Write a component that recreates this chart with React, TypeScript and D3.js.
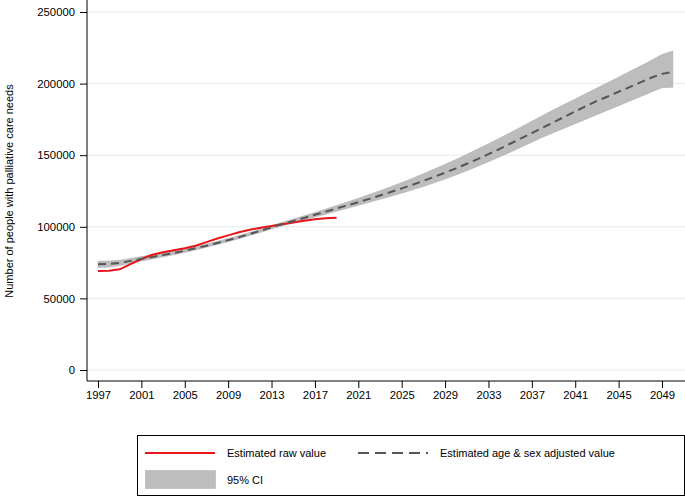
import { useRef, useEffect } from 'react';
import * as d3 from 'd3';

// raw estimates 1997-2019
const rawYears = d3.range(1997, 2020);
const rawValues = [
  69100, 69300, 70300, 74000, 77500, 80500, 82200, 83600, 85000, 86800, 89300, 91800,
  94000, 96200, 98000, 99300, 100500, 101800, 103000, 104200, 105200, 105900, 106400,
];

// age & sex adjusted estimates + 95% CI, 1997-2050
const adjYears = d3.range(1997, 2051);
const adjValues = [
  73800, 74000, 74800, 76200, 77600, 78900, 80300, 81700, 83300, 85000, 86800, 88700,
  90700, 92800, 95000, 97300, 99600, 101900, 104100, 106200, 108400, 110600, 112800,
  115000, 117200, 119500, 121900, 124300, 126800, 129400, 132100, 134900, 137800,
  140800, 144000, 147300, 150700, 154300, 158000, 161700, 165400, 169200, 173000,
  176800, 180600, 184300, 187900, 191000, 194300, 197500, 200800, 204100, 206800, 208200,
];
const ciLower = [
  71600, 71900, 72900, 74500, 76100, 77500, 79000, 80500, 82100, 83850, 85700, 87600,
  89600, 91700, 93900, 96150, 98400, 100650, 102750, 104750, 106800, 108850, 110900,
  112950, 115000, 117100, 119200, 121300, 123500, 125800, 128200, 130700, 133300,
  136100, 139100, 142200, 145400, 148700, 152000, 155500, 159000, 162600, 165700,
  168900, 172000, 175100, 178300, 181400, 184500, 187700, 190800, 194000, 197100, 197500,
];
const ciUpper = [
  76000, 76100, 76700, 77900, 79200, 80300, 81600, 82900, 84500, 86150, 87900, 89800,
  91800, 93900, 96100, 98450, 100800, 103150, 105450, 107650, 110000, 112350, 114900,
  117400, 119900, 122500, 125200, 128000, 130900, 133900, 137000, 140300, 143600,
  147000, 150600, 154300, 158000, 161800, 165700, 169700, 173700, 177800, 181700,
  185500, 189300, 193100, 196900, 200700, 204500, 208400, 212300, 216200, 220300, 222800,
];

const yTicks = [0, 50000, 100000, 150000, 200000, 250000];
const xTicks = [1997, 2001, 2005, 2009, 2013, 2017, 2021, 2025, 2029, 2033, 2037, 2041, 2045, 2049];

const yTitle = 'Number of people with palliative care needs';
const legendLabels = ['Estimated raw value', 'Estimated age & sex adjusted value', '95% CI'];

const W = 685;
const H = 497;
const FONT = '"Liberation Sans", Arial, sans-serif';

export default function App() {
  const svgRef = useRef<SVGSVGElement>(null);

  useEffect(() => {
    if (!svgRef.current) return;
    const svg = d3.select(svgRef.current);
    svg.selectAll('*').remove();

    const axisX = 87;
    const axisY = 381;

    const x = d3.scaleLinear().domain([1997, 2049]).range([98, 662]);
    const y = d3.scaleLinear().domain([0, 250000]).range([370, 12]);

    svg.append('rect').attr('width', W).attr('height', H).attr('fill', '#fff');

    // gridlines
    svg
      .append('g')
      .selectAll('line')
      .data(yTicks)
      .enter()
      .append('line')
      .attr('x1', axisX)
      .attr('x2', W)
      .attr('y1', (d) => y(d))
      .attr('y2', (d) => y(d))
      .attr('stroke', '#e4ecef')
      .attr('stroke-width', 1);

    // CI band
    const band = adjYears.map((yr, i) => ({ yr, lo: ciLower[i], hi: ciUpper[i] }));
    svg
      .append('path')
      .datum(band)
      .attr(
        'd',
        d3
          .area<{ yr: number; lo: number; hi: number }>()
          .x((d) => x(d.yr))
          .y0((d) => y(d.lo))
          .y1((d) => y(d.hi))
      )
      .attr('fill', '#bdbdbd')
      .attr('stroke', '#a9a9a9')
      .attr('stroke-width', 0.5);

    const line = d3
      .line<[number, number]>()
      .x((d) => x(d[0]))
      .y((d) => y(d[1]));

    // raw value
    svg
      .append('path')
      .datum(rawYears.map((yr, i) => [yr, rawValues[i]] as [number, number]))
      .attr('d', line)
      .attr('fill', 'none')
      .attr('stroke', '#e8161b')
      .attr('stroke-width', 2);

    // adjusted value
    svg
      .append('path')
      .datum(adjYears.map((yr, i) => [yr, adjValues[i]] as [number, number]))
      .attr('d', line)
      .attr('fill', 'none')
      .attr('stroke', '#555555')
      .attr('stroke-width', 2)
      .attr('stroke-dasharray', '8,5');

    // y axis
    const gy = svg
      .append('g')
      .attr('transform', `translate(${axisX},0)`)
      .call(
        d3
          .axisLeft(y)
          .tickValues(yTicks)
          .tickFormat(d3.format('d'))
          .tickSize(7)
          .tickPadding(5)
      );
    gy.select('.domain').remove();
    svg
      .append('line')
      .attr('x1', axisX)
      .attr('x2', axisX)
      .attr('y1', 0)
      .attr('y2', axisY)
      .attr('stroke', '#000');

    // x axis
    const gx = svg
      .append('g')
      .attr('transform', `translate(0,${axisY})`)
      .call(d3.axisBottom(x).tickValues(xTicks).tickFormat(d3.format('d')).tickSize(7).tickPadding(3));
    gx.select('.domain').remove();
    svg
      .append('line')
      .attr('x1', axisX)
      .attr('x2', W)
      .attr('y1', axisY)
      .attr('y2', axisY)
      .attr('stroke', '#000');

    svg.selectAll('.tick line').attr('stroke', '#000');
    svg
      .selectAll('.tick text')
      .attr('fill', '#000')
      .style('font-family', FONT)
      .style('font-size', '11.3px');

    // y title
    svg
      .append('text')
      .attr('transform', `translate(13,${y(125000)}) rotate(-90)`)
      .attr('text-anchor', 'middle')
      .style('font-family', FONT)
      .style('font-size', '11px')
      .attr('fill', '#000')
      .text(yTitle);

    // legend
    const lg = svg.append('g');
    lg.append('rect')
      .attr('x', 137.5)
      .attr('y', 435.5)
      .attr('width', 547)
      .attr('height', 60)
      .attr('fill', '#fff')
      .attr('stroke', '#000');
    lg.append('line')
      .attr('x1', 145)
      .attr('x2', 215)
      .attr('y1', 453)
      .attr('y2', 453)
      .attr('stroke', '#e8161b')
      .attr('stroke-width', 2);
    lg.append('line')
      .attr('x1', 358)
      .attr('x2', 428)
      .attr('y1', 453)
      .attr('y2', 453)
      .attr('stroke', '#555555')
      .attr('stroke-width', 2)
      .attr('stroke-dasharray', '11,6');
    lg.append('rect')
      .attr('x', 145.5)
      .attr('y', 470.5)
      .attr('width', 70)
      .attr('height', 18)
      .attr('fill', '#bdbdbd')
      .attr('stroke', '#a9a9a9')
      .attr('stroke-width', 0.5);
    const lpos = [
      [227, 453],
      [440, 453],
      [227, 480],
    ];
    lg.selectAll('text.lbl')
      .data(legendLabels)
      .enter()
      .append('text')
      .attr('class', 'lbl')
      .attr('x', (_, i) => lpos[i][0])
      .attr('y', (_, i) => lpos[i][1])
      .attr('dy', '0.35em')
      .style('font-family', FONT)
      .style('font-size', '11px')
      .attr('fill', '#000')
      .text((d) => d);
  }, []);

  return (
    <svg
      ref={svgRef}
      width={W}
      height={H}
      style={{ position: 'absolute', left: 0, top: 0, display: 'block' }}
    />
  );
}
